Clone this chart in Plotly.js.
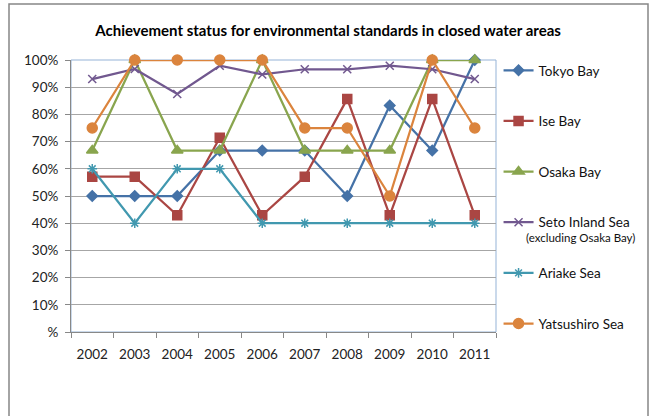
<!DOCTYPE html>
<html>
<head>
<meta charset="utf-8">
<script src="https://cdn.plot.ly/plotly-3.0.1.min.js"></script>
<style>
html,body{margin:0;padding:0;background:#fff;}
#chart{width:651px;height:416px;}
</style>
</head>
<body>
<div id="chart"></div>
<script>
const years = ["2002","2003","2004","2005","2006","2007","2008","2009","2010","2011"];
const tokyoBay   = [50, 50, 50, 66.7, 66.7, 66.7, 50, 83.3, 66.7, 100];
const iseBay     = [57.1, 57.1, 42.9, 71.4, 42.9, 57.1, 85.7, 42.9, 85.7, 42.9];
const osakaBay   = [66.7, 100, 66.7, 66.7, 100, 66.7, 66.7, 66.7, 100, 100];
const setoInland = [93, 96.7, 87.5, 97.9, 94.7, 96.6, 96.6, 97.9, 96.6, 93];
const ariakeSea  = [60, 40, 60, 60, 40, 40, 40, 40, 40, 40];
const yatsushiro = [75, 100, 100, 100, 100, 75, 75, 50, 100, 75];
const yTickVals  = [0, 10, 20, 30, 40, 50, 60, 70, 80, 90, 100];
const yTickText  = ["%", "10%", "20%", "30%", "40%", "50%", "60%", "70%", "80%", "90%", "100%"];

const seriesNames = ["Tokyo Bay", "Ise Bay", "Osaka Bay", "Seto Inland Sea", "Ariake Sea", "Yatsushiro Sea"];
const seriesData = [tokyoBay, iseBay, osakaBay, setoInland, ariakeSea, yatsushiro];
const colors = ["#4572A7", "#AA4643", "#89A54E", "#71588F", "#4198AF", "#DB843D"];
const symbols = ["diamond", "square", "triangle-up", "x-thin-open", "asterisk-open", "circle"];
const sizes = [8, 9, 10, 8, 8, 10];

const traces = seriesData.map((vals, i) => ({
  type: "scatter",
  mode: "lines+markers",
  x: years,
  y: vals,
  name: seriesNames[i],
  legendgroup: "g" + i,
  line: {color: colors[i], width: 2.25},
  marker: {symbol: symbols[i], size: sizes[i], color: colors[i], line: {color: colors[i], width: 1.5}},
  cliponaxis: false
}));

const px = (x) => (x - 71) / 425;
const py = (y) => (332 - y) / 272;

const layout = {
  width: 651, height: 416,
  margin: {l: 71, r: 155, t: 60, b: 84},
  paper_bgcolor: "#fff", plot_bgcolor: "#fff",
  font: {family: "Lato, 'Open Sans', sans-serif", size: 13, color: "#222"},
  title: {text: "<b>Achievement status for environmental standards in closed water areas</b>",
          font: {size: 15, color: "#000"}, x: 0.504, xref: "container", y: 0.925, yref: "container", yanchor: "middle"},
  xaxis: {type: "category", range: [-0.5, 9.5], showgrid: false, showline: true, linecolor: "#888", linewidth: 1,
          ticks: "outside", tickson: "boundaries", ticklen: 5, tickcolor: "#888", tickfont: {size: 13.5},
          ticklabelstandoff: 10},
  yaxis: {range: [0, 100], tickvals: yTickVals, ticktext: yTickText, showgrid: true, gridcolor: "#A6A6A6", gridwidth: 1,
          showline: true, linecolor: "#888", linewidth: 1, ticks: "outside", ticklen: 5, tickcolor: "#888",
          tickfont: {size: 13.5}, zeroline: false, ticklabelstandoff: 4},
  legend: {x: 1.006, xanchor: "left", y: py(55), yanchor: "top", tracegroupgap: 30.1, maxheight: 1,
           font: {size: 13.5, color: "#111"}, bgcolor: "rgba(0,0,0,0)", itemwidth: 30},
  showlegend: true,
  shapes: [
    {type: "rect", xref: "paper", yref: "paper", x0: 0, x1: 1, y0: 0, y1: 1, layer: "below",
     line: {color: "#95B3D7", width: 1}},
    {type: "rect", xref: "paper", yref: "paper", x0: px(9), x1: px(648), y0: py(4), y1: py(430), layer: "below",
     line: {color: "#868686", width: 1.5}}
  ],
  annotations: [
    {text: "(excluding Osaka Bay)", xref: "paper", yref: "paper", x: px(524), y: py(237), xanchor: "left",
     yanchor: "middle", showarrow: false, font: {size: 11.5, color: "#111"}}
  ]
};

Plotly.newPlot("chart", traces, layout, {displayModeBar: false, staticPlot: true});
</script>
</body>
</html>
